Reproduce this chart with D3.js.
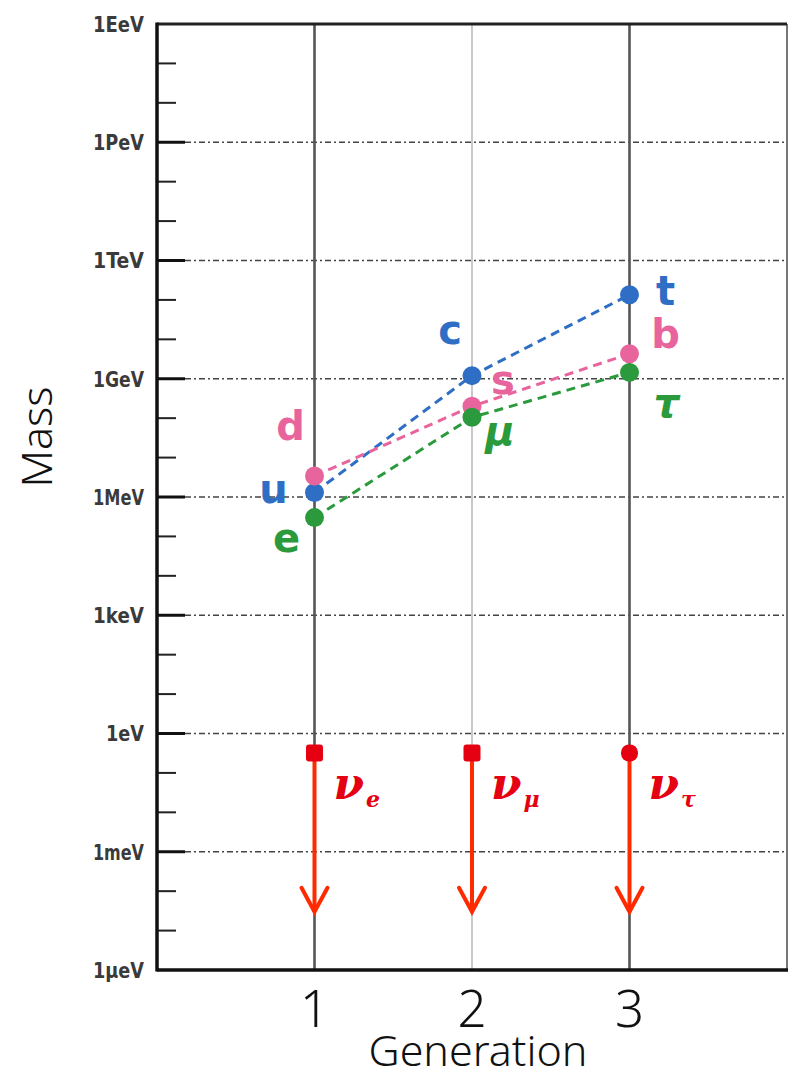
<!DOCTYPE html>
<html><head><meta charset="utf-8">
<script src="https://cdn.jsdelivr.net/npm/d3@7"></script>
<style>body{margin:0;background:#fff}svg{display:block}</style>
</head><body><svg id="c" width="789" height="1076"></svg>
<script>
// ---- data ----
const generations = [1, 2, 3];
const majorTickValues = [1e-6,1e-3,1,1e3,1e6,1e9,1e12,1e15,1e18];
const majorTickLabels = ["1μeV","1meV","1eV","1keV","1MeV","1GeV","1TeV","1PeV","1EeV"];
const upQuarks   = [1.3e6, 1.2e9, 1.35e11];   // u, c, t
const downQuarks = [3.4e6, 2.0e8, 4.3e9];     // d, s, b
const leptons    = [3.0e5, 1.05e8, 1.45e9];   // e, mu, tau
const neutrinos  = [0.32, 0.32, 0.32];        // upper bounds (arrows downward)
const neutrinoArrowTo = [3e-5, 3e-5, 3e-5];
const upNames = ["u","c","t"], downNames = ["d","s","b"], leptonNames = ["e","μ","τ"];
const nuSubs = ["e","μ","τ"];

const svg = d3.select("#c");
const x = d3.scaleLinear().domain([0,4]).range([157,787]);
const y = d3.scaleLog().domain([1e-6,1e18]).range([970,24]);

// minor ticks (every decade)
const minor = d3.range(-6,19).filter(p=>p%3!==0).map(p=>Math.pow(10,p));
svg.append("g").selectAll("line").data(minor).join("line")
  .attr("x1",x(0)).attr("x2",x(0)+19).attr("y1",d=>y(d)).attr("y2",d=>y(d))
  .attr("stroke","#222").attr("stroke-width",2);

// horizontal dotted grid
const grid = majorTickValues.slice(1,-1);
svg.append("g").selectAll("line").data(grid).join("line")
  .attr("x1",x(0)+28).attr("x2",x(4)).attr("y1",d=>y(d)).attr("y2",d=>y(d))
  .attr("stroke","#444").attr("stroke-width",1.6).attr("stroke-dasharray","6,3,2,3");
// solid major tick stubs
svg.append("g").selectAll("line").data(grid).join("line")
  .attr("x1",x(0)).attr("x2",x(0)+28).attr("y1",d=>y(d)).attr("y2",d=>y(d))
  .attr("stroke","#111").attr("stroke-width",3);

// vertical generation lines
svg.append("g").selectAll("line").data(generations).join("line")
  .attr("x1",d=>x(d)).attr("x2",d=>x(d)).attr("y1",y(1e18)).attr("y2",y(1e-6))
  .attr("stroke",d=>d===2?"#bbb":"#555").attr("stroke-width",d=>d===2?1.6:2.6);

// frame
svg.append("line").attr("x1",x(4)).attr("x2",x(4)).attr("y1",y(1e18)).attr("y2",y(1e-6))
  .attr("stroke","#777").attr("stroke-width",2);
svg.append("line").attr("x1",x(0)).attr("x2",x(4)).attr("y1",y(1e18)).attr("y2",y(1e18))
  .attr("stroke","#222").attr("stroke-width",3);
svg.append("line").attr("x1",x(0)).attr("x2",x(4)+1).attr("y1",y(1e-6)).attr("y2",y(1e-6))
  .attr("stroke","#111").attr("stroke-width",3.5);
svg.append("line").attr("x1",x(0)).attr("x2",x(0)).attr("y1",y(1e18)-1.5).attr("y2",y(1e-6)+1.5)
  .attr("stroke","#111").attr("stroke-width",3.5);

// y tick labels (condensed)
svg.append("g").selectAll("text").data(majorTickValues).join("text")
  .attr("x",144).attr("y",d=>y(d)).attr("dy","0.36em").attr("text-anchor","end")
  .attr("font-family","'DejaVu Sans','Liberation Sans',sans-serif")
  .attr("font-weight","bold").attr("font-size",22).attr("fill","#3a3a3a")
  .attr("textLength",(d,i)=>majorTickLabels[i].length===3?38:51)
  .attr("lengthAdjust","spacingAndGlyphs")
  .text((d,i)=>majorTickLabels[i]);

// series
const series = [
  {vals:upQuarks, names:upNames, color:"#2e6ec4",
   offs:[[-41,10],[-22,-32],[36,10]]},
  {vals:downQuarks, names:downNames, color:"#e8649c",
   offs:[[-24,-36],[31,-12],[36,-6]]},
  {vals:leptons, names:leptonNames, color:"#2b9a3c",
   offs:[[-28,34],[28,28],[37,45]]}
];
const lineGen = d3.line().x((d,i)=>x(generations[i])).y(d=>y(d));
series.forEach(s=>{
  svg.append("path").datum(s.vals).attr("d",lineGen).attr("fill","none")
    .attr("stroke",s.color).attr("stroke-width",3).attr("stroke-dasharray","9,6");
});
series.forEach(s=>{
  svg.append("g").selectAll("circle").data(s.vals).join("circle")
    .attr("cx",(d,i)=>x(generations[i])).attr("cy",d=>y(d)).attr("r",9.5).attr("fill",s.color);
});
series.forEach((s,k)=>{
  svg.append("g").selectAll("text").data(s.vals).join("text")
    .attr("x",(d,i)=>x(generations[i])+s.offs[i][0]).attr("y",(d,i)=>y(d)+s.offs[i][1])
    .attr("text-anchor","middle")
    .attr("font-family",k===2?"'DejaVu Sans',sans-serif":"'DejaVu Sans','Liberation Sans',sans-serif")
    .attr("font-weight","bold")
    .attr("font-style",(d,i)=>(k===2&&i>0)?"italic":"normal")
    .attr("font-size",(d,i)=>(k===2&&i>0)?40:40)
    .attr("fill",s.color)
    .text((d,i)=>s.names[i]);
});

// neutrinos
const red = "#ff2a00";
neutrinos.forEach((v,i)=>{
  const cx = x(generations[i]);
  const y0 = y(v), y1 = y(neutrinoArrowTo[i]);
  svg.append("line").attr("x1",cx).attr("x2",cx).attr("y1",y0+6).attr("y2",y1)
    .attr("stroke",red).attr("stroke-width",4);
  svg.append("path").attr("d",`M${cx-13},${y1-24}L${cx},${y1}L${cx+13},${y1-24}`)
    .attr("fill","none").attr("stroke",red).attr("stroke-width",4).attr("stroke-linecap","round");
  svg.append("rect").attr("x",cx-8.5).attr("y",y0-8.5).attr("width",17).attr("height",17)
    .attr("rx",i===2?8:3).attr("fill","#e50012");
  const t = svg.append("text").attr("x",cx+19).attr("y",y0+46)
    .attr("font-family","'DejaVu Serif',serif").attr("font-style","italic").attr("font-weight","bold")
    .attr("font-size",44).attr("fill","#e50012");
  t.append("tspan").text("ν");
  t.append("tspan").attr("font-size",22).attr("dy",8).attr("dx",2).text(nuSubs[i]);
});

// x tick labels
svg.append("g").selectAll("text").data(generations).join("text")
  .attr("x",d=>x(d)).attr("y",1027).attr("text-anchor","middle")
  .attr("font-family","'Noto Sans',sans-serif").attr("font-weight",300)
  .attr("font-size",51).attr("fill","#111").text(d=>d);
svg.append("text").attr("x",478).attr("y",1066).attr("text-anchor","middle")
  .attr("font-family","'Noto Sans',sans-serif").attr("font-weight",300)
  .attr("font-size",43).attr("fill","#111").text("Generation");
svg.append("text").attr("transform","translate(52,437) rotate(-90)").attr("text-anchor","middle")
  .attr("font-family","'Noto Sans',sans-serif").attr("font-weight",300)
  .attr("font-size",43).attr("fill","#111").text("Mass");
</script></body></html>
